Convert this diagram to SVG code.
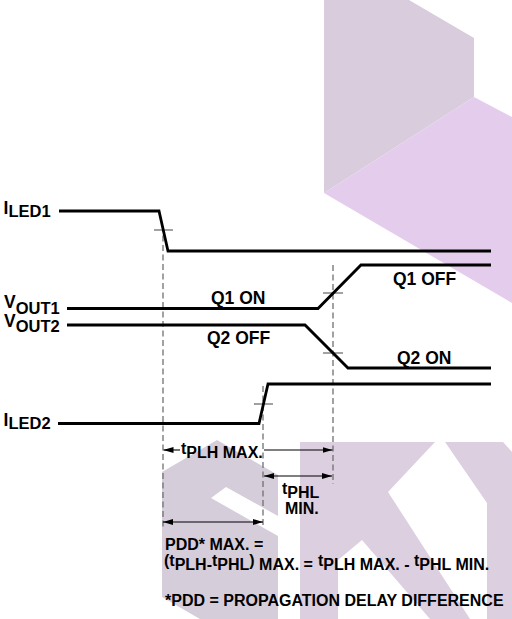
<svg xmlns="http://www.w3.org/2000/svg" width="512" height="619" viewBox="0 0 512 619">
<style>
text{font-family:"Liberation Sans",Arial,Helvetica,sans-serif;font-weight:bold;fill:#000}
.lbl{font-size:17.5px}
.sub{font-size:16.5px}
.note{font-size:16px}
.wave{fill:none;stroke:#000;stroke-width:2.8;stroke-linejoin:miter}
.dash{fill:none;stroke:#707070;stroke-width:1.3;stroke-dasharray:6 3.5}
.tick{stroke:#707070;stroke-width:1.3}
.dim{stroke:#000;stroke-width:1.1;fill:none}
.wmg{fill:#d9ccdd}
.wmp{fill:#e4cdec}
.wms{fill:#d5cdda}
.wmk{fill:#dccfe0}
</style>
<defs>
<marker id="ah" viewBox="0 0 10 6" refX="10" refY="3" markerWidth="10" markerHeight="6" markerUnits="userSpaceOnUse" orient="auto-start-reverse">
<path d="M0,0 L10,3 L0,6 z" fill="#000"/>
</marker>
</defs>
<rect width="512" height="619" fill="#fff"/>
<g id="watermark">
<polygon class="wmg" points="324,0 409,0 474,38 474,97 324,193"/>
<polygon class="wmp" points="324,193 474,97 512,117 512,303"/>
<polygon class="wms" points="162,472 217,440 278,475 278,619 200,619 162,597"/>
<polygon fill="#fff" points="211,498 226,487 278,516 278,536"/>
<polygon class="wmk" points="300,442 435,442 388,492 470,619 430,619 362,540 338,560 338,619 300,619"/>
<polygon class="wmk" points="445,442 503,442 512,452 512,619 487,619 487,503"/>
</g>
<g id="connectors">
<line class="dash" x1="163" y1="226" x2="163" y2="528"/>
<line class="dash" x1="263" y1="386" x2="263" y2="525"/>
<line class="dash" x1="333" y1="265" x2="333" y2="484"/>
<line class="tick" x1="154" y1="230" x2="173" y2="230"/>
<line class="tick" x1="323" y1="293" x2="343" y2="293"/>
<line class="tick" x1="323" y1="353" x2="343" y2="353"/>
<line class="tick" x1="254" y1="404" x2="273" y2="404"/>
<line class="dim" x1="180" y1="450" x2="163.5" y2="450" marker-end="url(#ah)"/>
<line class="dim" x1="264" y1="450" x2="332.5" y2="450" marker-end="url(#ah)"/>
<line class="dim" x1="264" y1="476" x2="332" y2="476" marker-start="url(#ah)" marker-end="url(#ah)"/>
<line class="dim" x1="163" y1="522" x2="263" y2="522" marker-start="url(#ah)" marker-end="url(#ah)"/>
</g>
<g id="iled1">
<path class="wave" d="M59,211 H159 L168,251 H491"/>
<text class="lbl" x="3.5" y="214">I<tspan class="sub" dy="3">LED1</tspan></text>
</g>
<g id="vout1">
<path class="wave" d="M67,308.5 H318 L361,265 H491"/>
<text class="lbl" x="4" y="308">V<tspan class="sub" dy="5.5">OUT1</tspan></text>
<text class="lbl" x="211" y="304">Q1 ON</text>
<text class="lbl" x="393" y="285">Q1 OFF</text>
</g>
<g id="vout2">
<path class="wave" d="M67,325 H305 L348,368 H491"/>
<text class="lbl" x="4" y="326.5">V<tspan class="sub" dy="5.5">OUT2</tspan></text>
<text class="lbl" x="207" y="344">Q2 OFF</text>
<text class="lbl" x="397" y="364">Q2 ON</text>
</g>
<g id="iled2">
<path class="wave" d="M58,423.5 H259 L268,384 H491"/>
<text class="lbl" x="3.5" y="426">I<tspan class="sub" dy="3">LED2</tspan></text>
</g>
<g id="tplh">
<text class="note" x="181" y="454">t<tspan dy="4">PLH MAX.</tspan></text>
</g>
<g id="tphl">
<text class="note" x="282" y="494">t<tspan dy="4">PHL</tspan></text>
<text class="note" x="285" y="514">MIN.</text>
</g>
<g id="pdd">
<text class="note" x="165" y="550">PDD* MAX. =</text>
<text class="note" x="164" y="566">(t<tspan dy="4">PLH-</tspan><tspan dy="-4">t</tspan><tspan dy="4">PHL</tspan><tspan dy="-4">)</tspan><tspan dy="4"> MAX. =</tspan><tspan x="318" dy="-4">t</tspan><tspan dy="4">PLH MAX. - </tspan><tspan dy="-4">t</tspan><tspan dy="4">PHL MIN.</tspan></text>
<text class="note" x="165" y="606">*PDD = PROPAGATION DELAY DIFFERENCE</text>
</g>
</svg>
